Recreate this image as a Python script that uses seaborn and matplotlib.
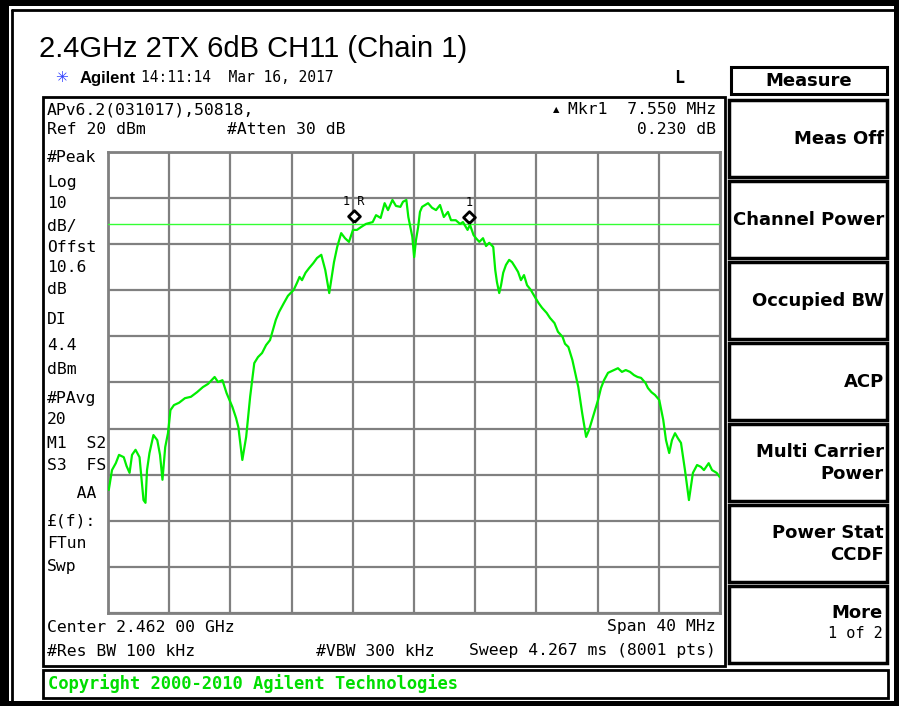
import numpy as np
import matplotlib.pyplot as plt
import seaborn as sns
import pandas as pd
from matplotlib.patches import Rectangle

### Data
CENTER_GHZ = 2.462
SPAN_MHZ = 40
REF_DBM = 20
DB_PER_DIV = 10
DISPLAY_LINE_DBM = 4.4

freq_offset_mhz = [
    -19.95, -19.74, -19.49, -19.28, -18.97, -18.79, -18.59, -18.43, -18.20, -17.94,
    -17.68, -17.55, -17.45, -17.29, -17.03, -16.78, -16.60, -16.44, -16.26, -16.08,
    -15.92, -15.69, -15.36, -14.97, -14.58, -14.18, -13.80, -13.46, -13.03, -12.81,
    -12.52, -12.25, -11.87, -11.63, -11.48, -11.22, -10.97, -10.71, -10.44, -10.20,
    -9.93, -9.67, -9.41, -9.22, -9.03, -8.82, -8.51, -8.24, -7.86, -7.65,
    -7.48, -7.32, -7.09, -6.86, -6.58, -6.34, -6.06, -5.80, -5.54, -5.41,
    -5.23, -5.02, -4.76, -4.51, -4.25, -3.99, -3.73, -3.47, -3.14, -2.70,
    -2.48, -2.18, -1.92, -1.70, -1.41, -1.18, -0.89, -0.72, -0.50, -0.37,
    -0.11, 0.01, 0.13, 0.27, 0.39, 0.53, 0.72, 0.92, 1.18, 1.44,
    1.70, 1.95, 2.22, 2.42, 2.73, 3.01, 3.20, 3.50, 3.66, 3.89,
    4.05, 4.27, 4.51, 4.71, 4.92, 5.18, 5.31, 5.42, 5.57, 5.69,
    5.83, 6.01, 6.22, 6.41, 6.60, 6.80, 6.99, 7.19, 7.39, 7.63,
    7.91, 8.15, 8.37, 8.67, 8.89, 9.18, 9.41, 9.71, 9.87, 10.09,
    10.35, 10.52, 10.74, 10.99, 11.25, 11.44, 11.64, 11.83, 12.03, 12.22,
    12.42, 12.68, 13.06, 13.33, 13.59, 13.84, 14.12, 14.38, 14.61, 14.84,
    15.13, 15.29, 15.52, 15.75, 16.03, 16.29, 16.47, 16.68, 16.86, 17.06,
    17.25, 17.45, 17.71, 17.97, 18.23, 18.50, 18.75, 18.95, 19.26, 19.48,
    19.78, 19.98,
]
level_dbm = [
    -53.3, -49.0, -47.5, -45.7, -46.2, -48.1, -49.6, -45.7, -44.6, -46.2,
    -55.5, -56.1, -49.0, -45.3, -41.4, -42.5, -45.7, -51.1, -44.0, -41.0,
    -36.0, -34.9, -34.4, -33.4, -33.1, -32.1, -31.0, -30.3, -28.8, -29.9,
    -29.5, -32.3, -35.3, -37.7, -39.7, -46.8, -41.8, -33.1, -25.8, -24.5,
    -23.6, -21.9, -20.8, -18.6, -16.4, -14.7, -12.8, -11.2, -9.9, -8.4,
    -7.1, -7.8, -6.2, -5.2, -4.1, -3.0, -2.3, -5.6, -10.6, -7.8,
    -3.9, -0.6, 2.4, 1.3, 0.5, 3.1, 3.1, 3.7, 4.4, 4.8,
    6.3, 5.7, 8.9, 7.4, 9.6, 8.3, 8.1, 9.2, 9.6, 5.9,
    1.6, -2.8, 0.9, 3.7, 7.0, 8.1, 8.5, 8.9, 7.9, 7.4,
    8.5, 5.9, 7.0, 5.2, 5.2, 4.4, 4.8, 3.1, 4.2, 2.0,
    1.3, 0.5, 1.3, -0.4, 0.3, -0.6, -5.6, -8.2, -10.6, -8.9,
    -6.2, -4.5, -3.4, -3.9, -4.9, -6.0, -7.8, -6.7, -8.9, -9.9,
    -11.5, -12.8, -13.8, -14.9, -16.0, -17.1, -19.0, -20.1, -21.6, -22.3,
    -25.1, -27.7, -31.0, -36.6, -41.8, -40.3, -38.1, -36.0, -33.8, -31.2,
    -29.5, -27.9, -27.3, -26.9, -27.7, -27.3, -27.7, -28.4, -28.8, -29.0,
    -30.1, -31.2, -32.1, -32.7, -33.8, -38.1, -42.5, -45.3, -42.5, -41.0,
    -42.1, -43.1, -49.0, -55.5, -49.6, -47.9, -48.3, -49.0, -47.5, -49.0,
    -49.6, -50.5,
]

# delta marker pair (1R reference, 1 delta)
marker_labels = ["1R", "1"]
marker_freq_mhz = [-3.95, 3.60]
marker_level_dbm = [4.8, 4.6]

softkeys = ["Meas Off", "Channel Power", "Occupied BW", "ACP",
            "Multi Carrier\nPower", "Power Stat\nCCDF", "More"]

left_annots = ["#Peak", "Log", "10", "dB/", "Offst", "10.6", "dB", "DI", "4.4",
               "dBm", "#PAvg", "20", "M1  S2", "S3  FS", "   AA", "£(f):", "FTun", "Swp"]
left_annot_y = [158, 182, 204, 226, 248, 268, 290, 320, 346,
                369, 398, 420, 443, 466, 493, 521, 543, 566]

trace = pd.DataFrame({"freq": freq_offset_mhz, "level": level_dbm})

### Figure
sns.set_style("white")
plt.rcParams["font.family"] = ["DejaVu Sans"]
plt.rcParams["text.color"] = "black"
MONO = "DejaVu Sans Mono"
GREEN = "#00ee00"
GRID = "#808080"

W, H = 899, 706
fig = plt.figure(figsize=(W / 100, H / 100), dpi=100)
fig.patch.set_facecolor("white")

# pixel-coordinate canvas for the instrument frame
bg = fig.add_axes([0, 0, 1, 1], zorder=0)
bg.set_xlim(0, W); bg.set_ylim(H, 0); bg.axis("off")

def box(x0, y0, x1, y1, lw=2.0, fc="none", ec="black"):
    bg.add_patch(Rectangle((x0, y0), x1 - x0, y1 - y0, lw=lw, fc=fc, ec=ec))

# outer black border
box(0, 0, 9, H, lw=0, fc="black")
box(0, 0, W, 6, lw=0, fc="black")
box(894, 0, W, H, lw=0, fc="black")
box(0, 701, W, H, lw=0, fc="black")
bg.plot([12, 12], [10, 701], color="black", lw=2)
bg.plot([12, 894], [10, 10], color="black", lw=2)

bg.text(39, 49, "2.4GHz 2TX 6dB CH11 (Chain 1)", fontsize=21,
        family="Liberation Sans", va="center", ha="left")
bg.text(62, 78, "\u2733", color="#3040ff", fontsize=11, ha="center", va="center")
bg.text(80, 78, "Agilent", fontsize=12, weight="bold", family="Liberation Sans",
        va="center", ha="left")
bg.text(141, 78, "14:11:14  Mar 16, 2017", fontsize=10.5, family=MONO, va="center")
bg.text(679, 78, "L", fontsize=12, weight="bold", family=MONO, va="center", ha="center")

# screen and copyright boxes
box(43, 97, 725, 666, lw=2)
box(43, 670, 888, 698, lw=2)
bg.text(48, 684, "Copyright 2000-2010 Agilent Technologies", color="#00dd00",
        fontsize=12.3, weight="bold", family=MONO, va="center")

# softkey panel
box(731, 67, 887, 94, lw=2.2)
bg.text(809, 81, "Measure", fontsize=13, weight="bold", va="center", ha="center")
for i, key in enumerate(softkeys):
    top = 100 + i * 81
    box(729, top, 887, top + 77, lw=2.5)
    if key == "More":
        bg.text(883, top + 27, key, fontsize=13, weight="bold", ha="right", va="center")
        bg.text(883, top + 48, "1 of 2", fontsize=11, family=MONO, ha="right", va="center")
    else:
        bg.text(884, top + 39, key, fontsize=13, weight="bold", ha="right",
                va="center", linespacing=1.25)

# header / footer annotations inside the screen
mono = dict(family=MONO, fontsize=11.8, va="center")
bg.text(47, 110, "APv6.2(031017),50818,", **mono)
bg.text(47, 129, "Ref 20 dBm", **mono)
bg.text(227, 129, "#Atten 30 dB", **mono)
bg.text(553, 110, "\u25b2", fontsize=6, va="center")
bg.text(716, 110, "Mkr1  7.550 MHz", ha="right", **mono)
bg.text(716, 129, "0.230 dB", ha="right", **mono)
for txt, y in zip(left_annots, left_annot_y):
    bg.text(47, y, txt, **mono)
bg.text(47, 627, "Center 2.462 00 GHz", **mono)
bg.text(716, 627, "Span 40 MHz", ha="right", **mono)
bg.text(47, 651, "#Res BW 100 kHz", **mono)
bg.text(316, 651, "#VBW 300 kHz", **mono)
bg.text(716, 651, "Sweep 4.267 ms (8001 pts)", ha="right", **mono)

# trace graticule
gl, gt, gr, gb = 108, 152, 720, 613
ax = fig.add_axes([gl / W, 1 - gb / H, (gr - gl) / W, (gb - gt) / H], zorder=2)
ax.set_facecolor("white")
half = SPAN_MHZ / 2
bottom = REF_DBM - 10 * DB_PER_DIV
ax.set_xlim(-half, half)
ax.set_ylim(bottom, REF_DBM)
ax.set_xticks(np.linspace(-half, half, 11))
ax.set_yticks(np.linspace(bottom, REF_DBM, 11))
ax.tick_params(length=0, labelbottom=False, labelleft=False)
ax.grid(True, color=GRID, lw=1.6)
for s in ax.spines.values():
    s.set_color(GRID); s.set_linewidth(2)

ax.axhline(DISPLAY_LINE_DBM, color="#33ff33", lw=1.0, zorder=3)
sns.lineplot(data=trace, x="freq", y="level", ax=ax, color=GREEN, lw=1.6,
             sort=False, estimator=None, zorder=4)
ax.set_xlabel(""); ax.set_ylabel("")

tip_diamond = [(0, 0), (1, 1), (0, 2), (-1, 1), (0, 0)]
for lbl, f, lv in zip(marker_labels, marker_freq_mhz, marker_level_dbm):
    ax.plot([f], [lv], marker=tip_diamond, ms=17, mfc="white", mec="black",
            mew=2, ls="none", zorder=5)
    ax.annotate(lbl if lbl == "1" else "1 R", (f, lv), xytext=(0, 15),
                textcoords="offset points", ha="center", va="center",
                fontsize=8.5, family=MONO, zorder=6)

fig.savefig("out.png", dpi=100)
